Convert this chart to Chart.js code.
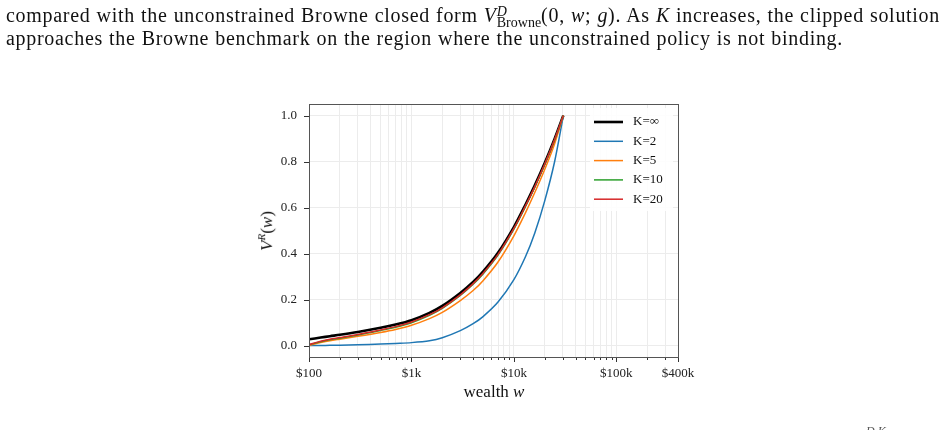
<!DOCTYPE html>
<html>
<head>
<meta charset="utf-8">
<script src="https://cdn.jsdelivr.net/npm/chart.js@4.4.1/dist/chart.umd.min.js"></script>
<style>
  html, body { margin: 0; padding: 0; background: #fff; }
  body { width: 948px; height: 430px; position: relative; overflow: hidden; }
  #chart { position: absolute; left: 0; top: 0; }
  .txt {
    position: absolute; left: 6px;
    font-family: "Liberation Serif", serif; font-size: 20px; color: #111;
    white-space: nowrap; text-align: justify; text-align-last: justify;
    letter-spacing: 0.7px; line-height: 22px;
  }
  .stack {
    display: inline-block; vertical-align: -5px; line-height: 11px;
    font-size: 14px; text-align: left; letter-spacing: 0;
  }
  .stack span { display: block; }
  .lbl { position: absolute; font-family: "Liberation Serif", serif; color: #111; white-space: nowrap; }
</style>
</head>
<body>
<canvas id="chart" width="948" height="430"></canvas>

<div class="txt" style="top:4px; width:934px;">compared with the unconstrained Browne closed form <i>V</i><span class="stack"><span><i>D</i></span><span>Browne</span></span>(0, <i>w</i>; <i>g</i>). As <i>K</i> increases, the clipped solution</div>
<div class="txt" style="top:27px; width:837px;">approaches the Browne benchmark on the region where the unconstrained policy is not binding.</div>

<div class="lbl" id="ylab" style="left:266px; top:231px; font-size:17px; transform: translate(-50%, -50%) rotate(-90deg);"><i>V</i><sup style="font-size:11px"><i>R</i></sup>(<i>w</i>)</div>
<div class="lbl" style="left:494px; top:382px; font-size:17px; transform: translateX(-50%);">wealth <i>w</i></div>
<div class="lbl" style="left:866px; top:424px; font-size:12px; color:#555;"><i>D,K</i></div>

<script>
// wealth grid ($) and V^R(w)
const wealth = [100, 130, 160, 200, 300, 500, 700, 1000, 1500, 2000, 3000, 4000, 5000, 7000, 10000, 13000, 16000, 20000, 25000, 30400];
const vInf = [0.027, 0.0345, 0.0405, 0.0465, 0.059, 0.077, 0.091, 0.110, 0.142, 0.172, 0.2285, 0.276, 0.321, 0.403, 0.515, 0.613, 0.696, 0.793, 0.899, 1.0];
const vK2  = [0.000, 0.0003, 0.0008, 0.0015, 0.0031, 0.006, 0.009, 0.0125, 0.0205, 0.0335, 0.0645, 0.0948, 0.1257, 0.1888, 0.2865, 0.387, 0.4894, 0.629, 0.800, 1.0];
const vK5  = [0.001, 0.0125, 0.0205, 0.0275, 0.040, 0.057, 0.070, 0.088, 0.117, 0.144, 0.1955, 0.239, 0.282, 0.363, 0.477, 0.578, 0.665, 0.765, 0.877, 1.0];
const vK10 = [0.003, 0.016, 0.025, 0.032, 0.0455, 0.0655, 0.0795, 0.099, 0.131, 0.161, 0.2175, 0.266, 0.311, 0.393, 0.506, 0.605, 0.688, 0.787, 0.894, 1.0];
const vK20 = [0.004, 0.0185, 0.0275, 0.0345, 0.048, 0.068, 0.082, 0.102, 0.134, 0.164, 0.2205, 0.269, 0.314, 0.396, 0.509, 0.608, 0.691, 0.789, 0.896, 1.0];

const seriesLabels = ['K=\u221E', 'K=2', 'K=5', 'K=10', 'K=20'];
const seriesValues = [vInf, vK2, vK5, vK10, vK20];
const seriesColors = ['#000000', '#1f77b4', '#ff7f0e', '#2ca02c', '#d62728'];
const seriesWidths = [2.6, 1.5, 1.5, 1.5, 1.5];

const xTicks = [100, 200, 300, 400, 500, 600, 700, 800, 900,
  1000, 2000, 3000, 4000, 5000, 6000, 7000, 8000, 9000,
  10000, 20000, 30000, 40000, 50000, 60000, 70000, 80000, 90000,
  100000, 200000, 300000, 400000];
const xTickLabels = { 100: '$100', 1000: '$1k', 10000: '$10k', 100000: '$100k', 400000: '$400k' };
const yTicks = [0, 0.2, 0.4, 0.6, 0.8, 1.0];

const FONT = '"Liberation Serif", serif';

// tick marks, top/right spines and the in-axes legend
const decorPlugin = {
  id: 'decor',
  afterDraw(chart) {
    const { ctx, chartArea: a, scales } = chart;
    ctx.save();
    ctx.strokeStyle = '#333';
    ctx.lineWidth = 1;
    ctx.beginPath();
    xTicks.forEach((v) => {
      const px = Math.round(scales.x.getPixelForValue(v)) + 0.5;
      const len = xTickLabels[v] ? 5 : 3;
      ctx.moveTo(px, a.bottom);
      ctx.lineTo(px, a.bottom + len);
    });
    yTicks.forEach((v) => {
      const py = Math.round(scales.y.getPixelForValue(v)) + 0.5;
      ctx.moveTo(a.left - 5, py);
      ctx.lineTo(a.left, py);
    });
    ctx.stroke();
    ctx.strokeStyle = '#555';
    ctx.strokeRect(Math.round(a.left) + 0.5, Math.round(a.top) + 0.5,
      Math.round(a.right - a.left), Math.round(a.bottom - a.top));

    // legend
    const lx = a.right - 88;
    const ly = a.top + 4;
    ctx.fillStyle = 'rgba(255,255,255,0.9)';
    ctx.fillRect(lx, ly, 83, 103);
    ctx.font = '13px ' + FONT;
    ctx.textBaseline = 'middle';
    seriesLabels.forEach((lab, i) => {
      const y = ly + 14 + i * 19.3;
      ctx.strokeStyle = seriesColors[i];
      ctx.lineWidth = seriesWidths[i];
      ctx.beginPath();
      ctx.moveTo(lx + 4, y);
      ctx.lineTo(lx + 33, y);
      ctx.stroke();
      ctx.fillStyle = '#111';
      ctx.fillText(lab, lx + 43, y);
    });
    ctx.restore();
  },
};

const ctx = document.getElementById('chart').getContext('2d');
const chart = new Chart(ctx, {
  type: 'line',
  data: {
    datasets: seriesLabels.map((label, i) => ({
      label,
      data: wealth.map((w, j) => ({ x: w, y: seriesValues[i][j] })),
      borderColor: seriesColors[i],
      borderWidth: seriesWidths[i],
      pointRadius: 0,
      fill: false,
      tension: 0.3,
      order: seriesLabels.length - i,
    })),
  },
  options: {
    responsive: false,
    animation: false,
    events: [],
    layout: { padding: { left: 249, right: 270, top: 104, bottom: 33 } },
    plugins: { legend: { display: false }, tooltip: { enabled: false } },
    scales: {
      x: {
        type: 'logarithmic',
        min: 100,
        max: 400000,
        afterBuildTicks: (scale) => { scale.ticks = xTicks.map((v) => ({ value: v })); },
        afterFit: (scale) => { scale.height = 40; },
        ticks: {
          autoSkip: false,
          maxRotation: 0,
          padding: 9,
          color: '#222',
          font: { family: FONT, size: 13 },
          callback: (v) => xTickLabels[v] || '',
        },
        grid: { color: '#ececec', lineWidth: 1, drawTicks: false },
        border: { display: true, color: '#333', width: 1 },
      },
      y: {
        min: -0.05,
        max: 1.05,
        afterBuildTicks: (scale) => { scale.ticks = yTicks.map((v) => ({ value: v })); },
        afterFit: (scale) => { scale.width = 60; },
        ticks: {
          padding: 12,
          color: '#222',
          font: { family: FONT, size: 13 },
          callback: (v) => v.toFixed(1),
        },
        grid: { color: '#ececec', lineWidth: 1, drawTicks: false },
        border: { display: true, color: '#333', width: 1 },
      },
    },
  },
  plugins: [decorPlugin],
});
</script>
</body>
</html>
